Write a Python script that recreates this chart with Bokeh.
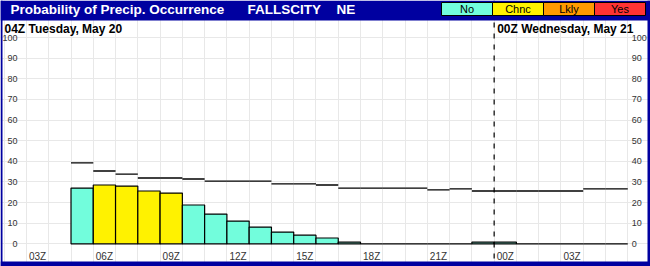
from bokeh.plotting import figure
from bokeh.models import Range1d, LinearAxis, FixedTicker, Span, Label, BoxAnnotation, ColumnDataSource
from bokeh.embed import file_html
from bokeh.resources import INLINE

# ---------------- data ----------------
title_text = "Probability of Precip. Occurrence"
site_text = "FALLSCITY"
state_text = "NE"
day1_text = "04Z Tuesday, May 20"
day2_text = "00Z Wednesday, May 21"

# hour index: 0 = 02Z Tue May 20 cell, one unit per hour
hour_index = list(range(3, 28))  # 05Z Tue .. 05Z Wed
hour_names = ["05Z", "06Z", "07Z", "08Z", "09Z", "10Z", "11Z", "12Z", "13Z", "14Z",
              "15Z", "16Z", "17Z", "18Z", "19Z", "20Z", "21Z", "22Z", "23Z", "00Z",
              "01Z", "02Z", "03Z", "04Z", "05Z"]
pop_values = [27.0, 28.5, 28.0, 25.6, 24.6, 18.8, 14.4, 11.0, 8.1, 5.7,
              4.2, 2.8, 0.8, 0.0, 0.0, 0.0, 0.0, 0.0, 0.8, 0.8,
              0.0, 0.0, 0.0, 0.0, 0.0]
pop_category = ["No", "Chnc", "Chnc", "Chnc", "Chnc", "No", "No", "No", "No", "No",
                "No", "No", "No", "No", "No", "No", "No", "No", "No", "No",
                "No", "No", "No", "No", "No"]
ref_values = [39.2, 35.3, 33.8, 31.9, 31.9, 31.4, 30.4, 30.4, 30.4, 29.0,
              29.0, 28.5, 27.0, 27.0, 27.0, 27.0, 26.1, 26.6, 25.6, 25.6,
              25.6, 25.6, 25.6, 26.6, 26.6]

categories = ["No", "Chnc", "Lkly", "Yes"]
category_colors = ["#72FDDC", "#FFF200", "#FF9A00", "#FF3333"]

y_ticks = [0, 10, 20, 30, 40, 50, 60, 70, 80, 90, 100]
x_tick_pos = [1.5, 4.5, 7.5, 10.5, 13.5, 16.5, 19.5, 22.5, 25.5]
x_tick_labels = ["03Z", "06Z", "09Z", "12Z", "15Z", "18Z", "21Z", "00Z", "03Z"]
hour_gridlines = list(range(0, 29))
day_break = 22  # 00Z Wed

# ---------------- layout ----------------
W, H = 650, 266
BLUE = "#0000A0"
FONT = "Liberation Sans"
PX_H = 22.27      # px per hour
T0 = 3.7          # canvas x of hour index 0
Z0 = 243.3        # canvas y of 0 %
PX_U = 2.063      # px per percent
FL, FR, FT, FB = 2, 647, 20, 261   # white panel edges (canvas px)

# frame covers the whole canvas; the blue frame/title bar are drawn on top
x_rng = Range1d((0 - T0) / PX_H, (W - T0) / PX_H)
y_rng = Range1d((Z0 - H) / PX_U, (Z0 - 0) / PX_U)

p = figure(width=W, height=H, output_backend="svg", toolbar_location=None,
           x_range=x_rng, y_range=y_rng, x_axis_location=None, y_axis_location=None,
           min_border=0, border_fill_color=BLUE,
           background_fill_color="white", outline_line_color=None)

p.xgrid.ticker = FixedTicker(ticks=hour_gridlines)
p.ygrid.ticker = FixedTicker(ticks=y_ticks)
for g in (p.xgrid, p.ygrid):
    g.grid_line_color = "#E8E8E8"
    g.grid_line_width = 1

def style_axis(ax, size):
    ax.axis_line_color = None
    ax.major_tick_line_color = None
    ax.minor_tick_line_color = None
    ax.major_tick_out = 0
    ax.major_tick_in = 0
    ax.minor_tick_out = 0
    ax.minor_tick_in = 0
    ax.major_label_text_font = FONT
    ax.major_label_text_font_size = size
    ax.major_label_text_color = "#333333"

yl = LinearAxis(fixed_location=(18 - T0) / PX_H, ticker=FixedTicker(ticks=y_ticks),
                major_label_standoff=1)
style_axis(yl, "9px")
p.add_layout(yl, "left")

yr = LinearAxis(fixed_location=28, ticker=FixedTicker(ticks=y_ticks), major_label_standoff=4)
style_axis(yr, "9px")
p.add_layout(yr, "right")

xb = LinearAxis(fixed_location=(Z0 - 249) / PX_U, ticker=FixedTicker(ticks=x_tick_pos),
                major_label_standoff=1,
                major_label_overrides={pos: lab for pos, lab in zip(x_tick_pos, x_tick_labels)})
style_axis(xb, "10px")
p.add_layout(xb, "below")

# bars
color_of = dict(zip(categories, category_colors))
src = ColumnDataSource(dict(
    left=hour_index, right=[h + 1 for h in hour_index], top=pop_values,
    bottom=[0] * len(hour_index), color=[color_of[c] for c in pop_category],
    ref=ref_values, name=hour_names))
p.quad(left="left", right="right", top="top", bottom="bottom", fill_color="color",
       line_color="black", line_width=1.2, source=src)
p.segment(x0="left", x1="right", y0="ref", y1="ref", line_color="black",
          line_width=1.3, source=src)

p.add_layout(Span(location=day_break, dimension="height", line_color="black",
                  line_width=1.2, line_dash="5 6"))

# header texts
p.add_layout(Label(x=4, y=21, x_units="canvas", y_units="canvas", text=day1_text,
                   text_baseline="top", text_font=FONT, text_font_size="12px",
                   text_font_style="bold", text_color="black"))
p.add_layout(Label(x=day_break, x_offset=3, y=21, x_units="data", y_units="canvas",
                   text=day2_text, text_baseline="top", text_font=FONT,
                   text_font_size="12px", text_font_style="bold", text_color="black"))

# blue outer frame and title bar (canvas px, drawn over the grid)
def canvas_box(l, r, t, b, fill, line=None):
    return BoxAnnotation(left=l, right=r, top=t, bottom=b,
                         left_units="canvas", right_units="canvas",
                         top_units="canvas", bottom_units="canvas",
                         fill_color=fill, fill_alpha=1,
                         line_color=line, line_width=1, line_alpha=1)

p.add_layout(canvas_box(0, W, 0, FT, BLUE))
p.add_layout(canvas_box(0, FL, 0, H, BLUE))
p.add_layout(canvas_box(FR, W, 0, H, BLUE))
p.add_layout(canvas_box(0, W, FB, H, BLUE))

# title bar
for txt, xx in ((title_text, 10), (site_text, 247), (state_text, 336)):
    p.add_layout(Label(x=xx, y=1.5, x_units="canvas", y_units="canvas", text=txt,
                       text_baseline="top", text_font=FONT, text_font_size="13.5px",
                       text_font_style="bold", text_color="white"))

# category legend
box_w = 51
for i, (cat, col) in enumerate(zip(categories, category_colors)):
    l = 441 + i * box_w
    p.add_layout(canvas_box(l, l + box_w, 2, 15, col, "black"))
    p.add_layout(Label(x=l + box_w / 2, y=8.5, x_units="canvas", y_units="canvas",
                       text=cat, text_align="center", text_baseline="middle",
                       text_font=FONT, text_font_size="11px", text_color="black"))

open("out.html", "w").write(file_html(p, INLINE))
